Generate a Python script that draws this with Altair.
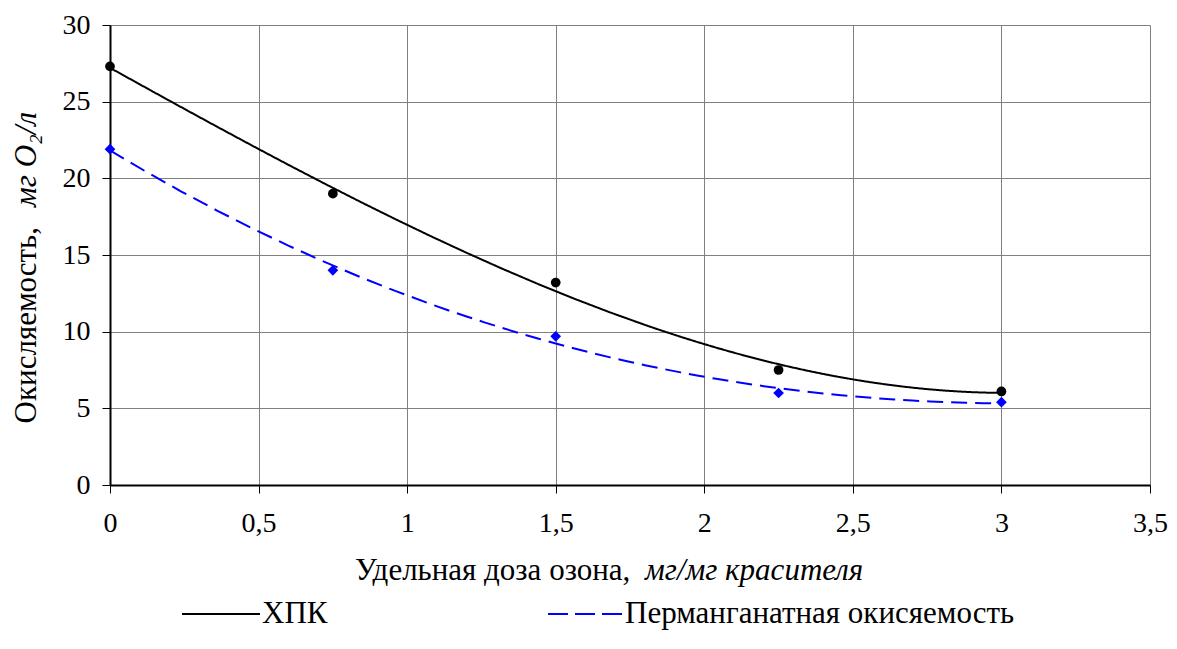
import altair as alt
import pandas as pd

# ---- data ----
dose = [0, 0.75, 1.5, 2.25, 3]
hpk = [27.3, 19.0, 13.2, 7.5, 6.1]
perm = [21.9, 14.0, 9.7, 6.0, 5.4]
series_names = ["ХПК", "Перманганатная окисяемость"]
x_ticks = [0, 0.5, 1, 1.5, 2, 2.5, 3, 3.5]
y_ticks = [0, 5, 10, 15, 20, 25, 30]

rows = []
for xv, yv in zip(dose, hpk):
    rows.append({"x": xv, "y": yv, "series": series_names[0]})
for xv, yv in zip(dose, perm):
    rows.append({"x": xv, "y": yv, "series": series_names[1]})
df = pd.DataFrame(rows)

FONT = "Liberation Serif"
W, H = 1040, 460
TICK_FS = 28
TITLE_FS = 31

color_scale = alt.Scale(domain=series_names, range=["#000000", "#0000ff"])
dash_scale = alt.Scale(domain=series_names, range=[[1, 0], [16, 8]])
shape_scale = alt.Scale(domain=series_names, range=["circle", "diamond"])
size_scale = alt.Scale(domain=series_names, range=[95, 115])

xenc = alt.X("x:Q", scale=alt.Scale(domain=[0, 3.5], nice=False),
             axis=alt.Axis(values=x_ticks, title=None, grid=True,
                           labelExpr="replace(format(datum.value, '~g'), '.', ',')",
                           labelPadding=16, labelFontSize=TICK_FS, labelFont=FONT,
                           labelColor="black", tickSize=8, tickColor="black",
                           domainColor="black", domainWidth=2,
                           gridColor="#808080", gridWidth=1, labelFlush=False))
yenc = alt.Y("y:Q", scale=alt.Scale(domain=[0, 30], nice=False),
             axis=alt.Axis(values=y_ticks, title=None, grid=True,
                           labelPadding=12, labelFontSize=TICK_FS, labelFont=FONT,
                           labelColor="black", tickSize=8, tickColor="black",
                           domainColor="black", domainWidth=2,
                           gridColor="#808080", gridWidth=1))

base = alt.Chart(df)

trend = base.transform_regression(
    "x", "y", groupby=["series"], method="poly", order=3, extent=[0, 3]
).mark_line(strokeWidth=2, clip=True).encode(
    x=xenc, y=yenc,
    color=alt.Color("series:N", scale=color_scale, legend=None),
    strokeDash=alt.StrokeDash("series:N", scale=dash_scale, legend=None),
)

points = base.mark_point(filled=True, opacity=1).encode(
    x=xenc, y=yenc,
    color=alt.Color("series:N", scale=color_scale, legend=None),
    shape=alt.Shape("series:N", scale=shape_scale, legend=None),
    size=alt.Size("series:N", scale=size_scale, legend=None),
)

def txt(text, x, y, italic=False, align="left", angle=0, size=TITLE_FS):
    return alt.Chart(pd.DataFrame({"t": [text]})).mark_text(
        font=FONT, fontSize=size, fontStyle="italic" if italic else "normal",
        align=align, baseline="middle", angle=angle, color="black"
    ).encode(text="t:N", x=alt.value(x), y=alt.value(y))

# axis titles (mixed upright / italic)
ytitle1 = txt("Окисляемость,", -83, 202, align="right", angle=270)
ytitle2 = txt("мг O₂/л", -83, 182, italic=True, align="left", angle=270)
xtitle1 = txt("Удельная доза озона,", 245, 546, align="left")
xtitle2 = txt("мг/мг красителя", 535, 546, italic=True, align="left")

# legend
LEG_Y = 589
leg1 = alt.Chart(pd.DataFrame({"s": [series_names[0]]})).mark_rule(
    color="black", strokeWidth=2).encode(
    x=alt.value(72), x2=alt.value(150), y=alt.value(LEG_Y))
leg1t = txt(series_names[0], 152, LEG_Y)
leg2 = alt.Chart(pd.DataFrame({"s": [series_names[1]]})).mark_rule(
    color="#0000ff", strokeWidth=2, strokeDash=[20, 7]).encode(
    x=alt.value(438), x2=alt.value(512), y=alt.value(LEG_Y))
leg2t = txt(series_names[1], 515, LEG_Y)

chart = alt.layer(
    trend, points, ytitle1, ytitle2, xtitle1, xtitle2, leg1, leg1t, leg2, leg2t
).properties(
    width=W, height=H,
    autosize=alt.AutoSizeParams(type="none"),
    padding={"left": 102, "top": 17, "right": 19, "bottom": 150},
).configure_view(
    stroke="black", strokeWidth=2
).configure(background="white")

chart.save("out.html", embed_options={"renderer": "svg", "actions": False})
